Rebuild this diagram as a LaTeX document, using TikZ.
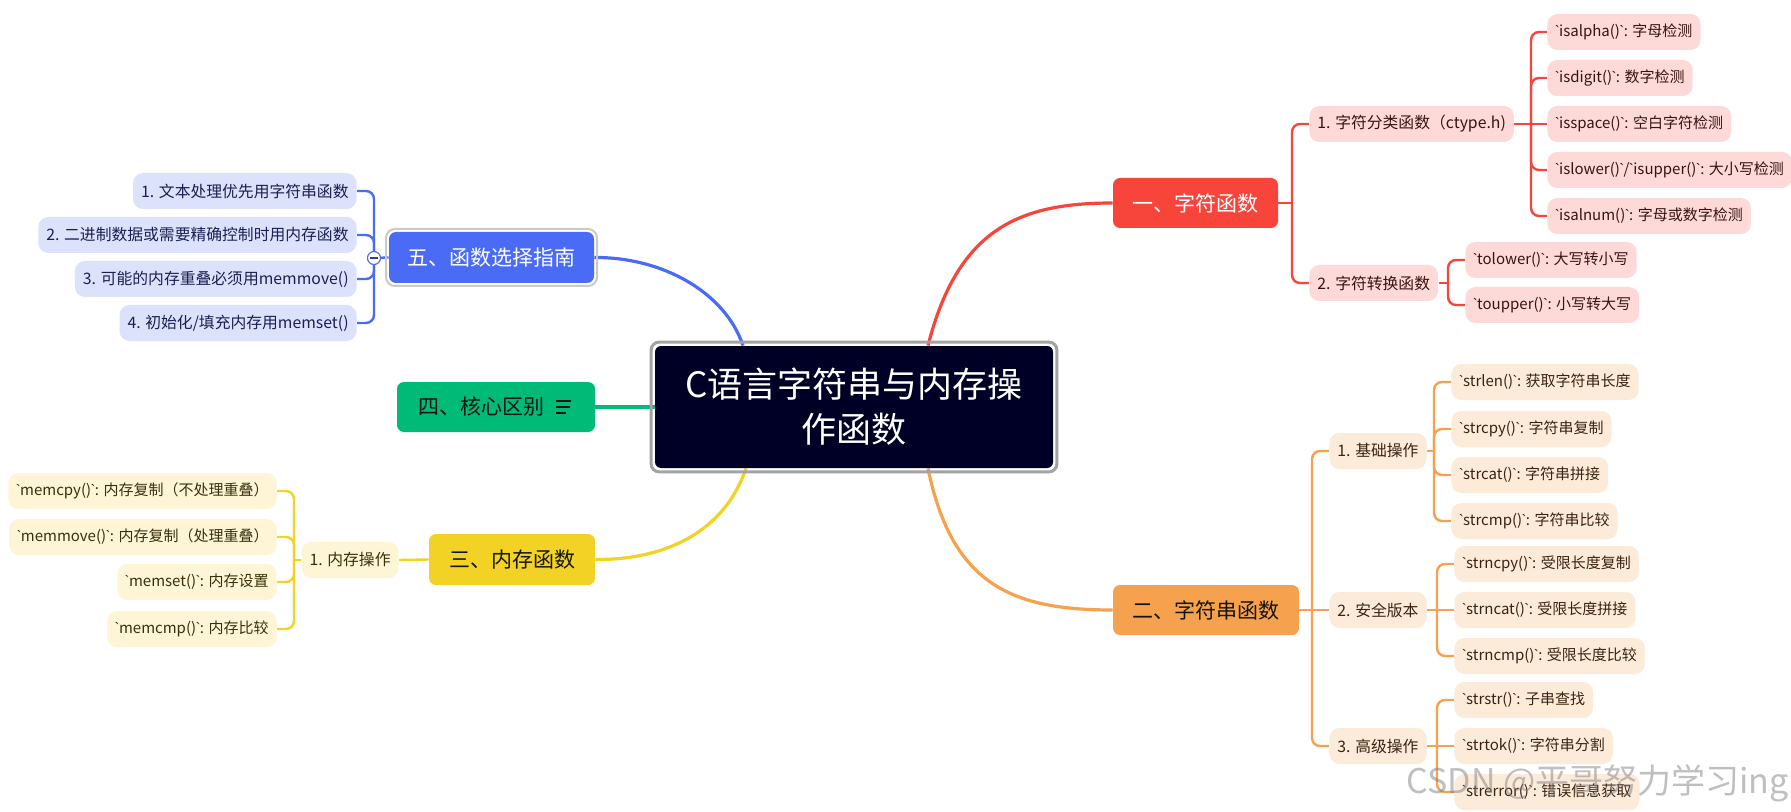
\documentclass[tikz,border=0pt]{standalone}
\usepackage{fontspec}
\setmainfont{Noto Sans CJK SC}[Ligatures=TeXOff]
\newfontfamily\latf{Liberation Sans}
\usetikzlibrary{backgrounds}
\definecolor{redC}{HTML}{F8453B}
\definecolor{redL}{HTML}{FDDAD8}
\definecolor{redT}{HTML}{3A1212}
\definecolor{oraC}{HTML}{F6A14D}
\definecolor{oraL}{HTML}{FDEBDA}
\definecolor{oraT}{HTML}{3A2410}
\definecolor{yelC}{HTML}{F2D224}
\definecolor{yelL}{HTML}{FDF5D6}
\definecolor{yelT}{HTML}{3A3008}
\definecolor{grnC}{HTML}{00BA77}
\definecolor{bluC}{HTML}{4A6BF6}
\definecolor{bluL}{HTML}{DCE2FC}
\definecolor{bluT}{HTML}{1A2050}
\definecolor{navy}{HTML}{000026}
\definecolor{frameC}{HTML}{A3A3A3}
\definecolor{frameL}{HTML}{CACACA}
\definecolor{darkT}{HTML}{141414}
\newcommand{\gv}{{\kern-0.04em\latf\char96\kern-0.04em}}
\tikzset{
  mainbox/.style={rounded corners=3.5pt, inner sep=0pt, minimum height=25pt,
    font=\fontsize{10.5pt}{12pt}\selectfont},
  leafbox/.style={rounded corners=5pt, inner xsep=4pt, inner ysep=0pt,
    minimum height=18pt, font=\fontsize{7.9pt}{10pt}\selectfont},
  fnbox/.style={font=\fontsize{7.5pt}{10pt}\selectfont},
  rleaf/.style={leafbox, fill=redL, text=redT},
  oleaf/.style={leafbox, fill=oraL, text=oraT},
  yleaf/.style={leafbox, fill=yelL, text=yelT},
  bleaf/.style={leafbox, fill=bluL, text=bluT},
  brline/.style={line width=1.2pt, rounded corners=4pt},
  mainline/.style={line width=1.6pt},
  rootbox/.style={fill=navy, text=white, rounded corners=3pt, inner sep=0pt,
    minimum width=199pt, minimum height=61pt, align=center,
    font=\fontsize{17.5pt}{22.5pt}\selectfont},
}
\begin{document}
\begin{tikzpicture}[x=0.5pt,y=-0.5pt]
\useasboundingbox (0,0) rectangle (1791,812);

% ---------- root ----------
\node[rootbox] (root) at (854,407) {C语言字符串与内存操\\作函数};
\draw[frameC, line width=1.5pt, rounded corners=4pt]
  ([xshift=-1.75pt,yshift=1.75pt]root.north west) rectangle
  ([xshift=1.75pt,yshift=-1.75pt]root.south east);

% ---------- main topics ----------
\node[mainbox, fill=redC, text=white, minimum width=82.5pt] (rm) at (1195.5,203) {一、字符函数};
\node[mainbox, fill=oraC, text=darkT, minimum width=93pt] (om) at (1206,610) {二、字符串函数};
\node[mainbox, fill=yelC, text=darkT, minimum width=83pt, minimum height=25.5pt] (ym) at (512,559.5) {三、内存函数};
\node[mainbox, fill=grnC, minimum width=99pt] (gm) at (496,407) {};
\node[mainbox, text=darkT, minimum height=0pt] (gmt) at (481,407) {四、核心区别};
\draw[darkT, line width=0.9pt] ([xshift=-19.5pt,yshift=3pt]gm.east) -- ([xshift=-12pt,yshift=3pt]gm.east);
\draw[darkT, line width=0.9pt] ([xshift=-19.5pt,yshift=0pt]gm.east) -- ([xshift=-12.5pt,yshift=0pt]gm.east);
\draw[darkT, line width=0.9pt] ([xshift=-19.5pt,yshift=-3pt]gm.east) -- ([xshift=-14.5pt,yshift=-3pt]gm.east);
\node[mainbox, fill=bluC, text=white, minimum width=102.5pt, minimum height=25.5pt] (bm) at (491.5,257.5) {五、函数选择指南};
\draw[frameL, line width=1pt, rounded corners=4.5pt]
  ([xshift=-1.3pt,yshift=1.3pt]bm.north west) rectangle
  ([xshift=1.3pt,yshift=-1.3pt]bm.south east);

% ---------- red branch ----------
\node[rleaf, anchor=west] (r1) at (1309,124) {1. 字符分类函数（ctype.h)};
\node[rleaf, anchor=west] (r2) at (1309,283) {2. 字符转换函数};
\node[rleaf, fnbox, anchor=west] (r11) at (1547,32) {\gv isalpha()\gv: 字母检测};
\node[rleaf, fnbox, anchor=west] (r12) at (1547,78) {\gv isdigit()\gv: 数字检测};
\node[rleaf, fnbox, anchor=west] (r13) at (1547,124) {\gv isspace()\gv: 空白字符检测};
\node[rleaf, fnbox, anchor=west] (r14) at (1547,170) {\gv islower()\gv/\gv isupper()\gv: 大小写检测};
\node[rleaf, fnbox, anchor=west] (r15) at (1547,216) {\gv isalnum()\gv: 字母或数字检测};
\node[rleaf, fnbox, anchor=west] (r21) at (1465,260) {\gv tolower()\gv: 大写转小写};
\node[rleaf, fnbox, anchor=west] (r22) at (1465,305) {\gv toupper()\gv: 小写转大写};
\coordinate (jr) at (1292,203);
\coordinate (jr1) at (1531,124);
\coordinate (jr2) at (1448,283);

% ---------- orange branch ----------
\node[oleaf, anchor=west] (o1) at (1329,451) {1. 基础操作};
\node[oleaf, anchor=west] (o2) at (1329,610) {2. 安全版本};
\node[oleaf, anchor=west] (o3) at (1329,746) {3. 高级操作};
\node[oleaf, fnbox, anchor=west] (o11) at (1451,382) {\gv strlen()\gv: 获取字符串长度};
\node[oleaf, fnbox, anchor=west] (o12) at (1451,429) {\gv strcpy()\gv: 字符串复制};
\node[oleaf, fnbox, anchor=west] (o13) at (1451,475) {\gv strcat()\gv: 字符串拼接};
\node[oleaf, fnbox, anchor=west] (o14) at (1451,521) {\gv strcmp()\gv: 字符串比较};
\node[oleaf, fnbox, anchor=west] (o21) at (1454,564) {\gv strncpy()\gv: 受限长度复制};
\node[oleaf, fnbox, anchor=west] (o22) at (1454,610) {\gv strncat()\gv: 受限长度拼接};
\node[oleaf, fnbox, anchor=west] (o23) at (1454,656) {\gv strncmp()\gv: 受限长度比较};
\node[oleaf, fnbox, anchor=west] (o31) at (1454,700) {\gv strstr()\gv: 子串查找};
\node[oleaf, fnbox, anchor=west] (o32) at (1454,746) {\gv strtok()\gv: 字符串分割};
\node[oleaf, fnbox, anchor=west] (o33) at (1454,792) {\gv strerror()\gv: 错误信息获取};
\coordinate (jo) at (1312,610);
\coordinate (jo1) at (1434,451);
\coordinate (jo2) at (1437,610);
\coordinate (jo3) at (1437,746);

% ---------- yellow branch ----------
\node[yleaf, anchor=east] (y1) at (399,560) {1. 内存操作};
\node[yleaf, fnbox, anchor=east] (y11) at (277,491) {\gv memcpy()\gv: 内存复制（不处理重叠）};
\node[yleaf, fnbox, anchor=east] (y12) at (277,537) {\gv memmove()\gv: 内存复制（处理重叠）};
\node[yleaf, fnbox, anchor=east] (y13) at (277,582) {\gv memset()\gv: 内存设置};
\node[yleaf, fnbox, anchor=east] (y14) at (277,629) {\gv memcmp()\gv: 内存比较};
\coordinate (jy) at (294,560);

% ---------- blue branch ----------
\node[bleaf, anchor=east] (b1) at (357,191) {1. 文本处理优先用字符串函数};
\node[bleaf, anchor=east] (b2) at (357,235) {2. 二进制数据或需要精确控制时用内存函数};
\node[bleaf, anchor=east] (b3) at (357,279) {3. 可能的内存重叠必须用memmove()};
\node[bleaf, anchor=east] (b4) at (357,323) {4. 初始化/填充内存用memset()};
\node[circle, draw=bluC!70!gray, fill=white, line width=0.6pt, minimum size=6.5pt, inner sep=0pt] (cb) at (374,258) {};
\draw[bluC!60!black, line width=0.6pt] ([xshift=-1.8pt]cb.center) -- ([xshift=1.8pt]cb.center);

% ---------- connectors ----------
\begin{pgfonlayer}{background}
\fill[white] (0,0) rectangle (1791,812);
\draw[mainline, redC] ([xshift=37pt]root.north) .. controls (958,228) and (1020,203) .. (rm.west);
\draw[mainline, oraC] ([xshift=37pt]root.south) .. controls (952,585) and (1012,610) .. (om.west);
\draw[mainline, yelC] ([xshift=-54pt]root.south) .. controls (725,530) and (668,560) .. (ym.east);
\draw[mainline, bluC] (bm.east) .. controls (662,257) and (725,292) .. ([xshift=-55.5pt]root.north);
\draw[mainline, grnC] (gm.east) -- (root.west);

\draw[brline, redC] (rm.east) -- (jr);
\draw[brline, redC] (jr) |- (r1.west);
\draw[brline, redC] (jr) |- (r2.west);
\draw[brline, redC] (r1.east) -- (jr1);
\draw[brline, redC] (jr1) |- (r11.west);
\draw[brline, redC] (jr1) |- (r12.west);
\draw[brline, redC] (jr1) -- (r13.west);
\draw[brline, redC] (jr1) |- (r14.west);
\draw[brline, redC] (jr1) |- (r15.west);
\draw[brline, redC] (r2.east) -- (jr2);
\draw[brline, redC] (jr2) |- (r21.west);
\draw[brline, redC] (jr2) |- (r22.west);

\draw[brline, oraC] (om.east) -- (o2.west);
\draw[brline, oraC] (jo) |- (o1.west);
\draw[brline, oraC] (jo) |- (o3.west);
\draw[brline, oraC] (o1.east) -- (jo1);
\draw[brline, oraC] (jo1) |- (o11.west);
\draw[brline, oraC] (jo1) |- (o12.west);
\draw[brline, oraC] (jo1) |- (o13.west);
\draw[brline, oraC] (jo1) |- (o14.west);
\draw[brline, oraC] (o2.east) -- (o22.west);
\draw[brline, oraC] (jo2) |- (o21.west);
\draw[brline, oraC] (jo2) |- (o23.west);
\draw[brline, oraC] (o3.east) -- (o32.west);
\draw[brline, oraC] (jo3) |- (o31.west);
\draw[brline, oraC] (jo3) |- (o33.west);

\draw[brline, yelC] (ym.west) -- (y1.east);
\draw[brline, yelC] (y1.west) -- (jy);
\draw[brline, yelC] (jy) |- (y11.east);
\draw[brline, yelC] (jy) |- (y12.east);
\draw[brline, yelC] (jy) |- (y13.east);
\draw[brline, yelC] (jy) |- (y14.east);

\draw[brline, bluC] (bm.west) -- (cb);
\draw[brline, bluC] (cb) |- (b1.east);
\draw[brline, bluC] (cb) |- (b2.east);
\draw[brline, bluC] (cb) |- (b3.east);
\draw[brline, bluC] (cb) |- (b4.east);
\end{pgfonlayer}

% ---------- watermark ----------
\node[anchor=east, text=gray, opacity=0.5, font=\fontsize{17pt}{20pt}\selectfont, inner sep=0pt] (wm) at (1789,783) {CSDN @平哥努力学习ing};
\end{tikzpicture}
\end{document}
